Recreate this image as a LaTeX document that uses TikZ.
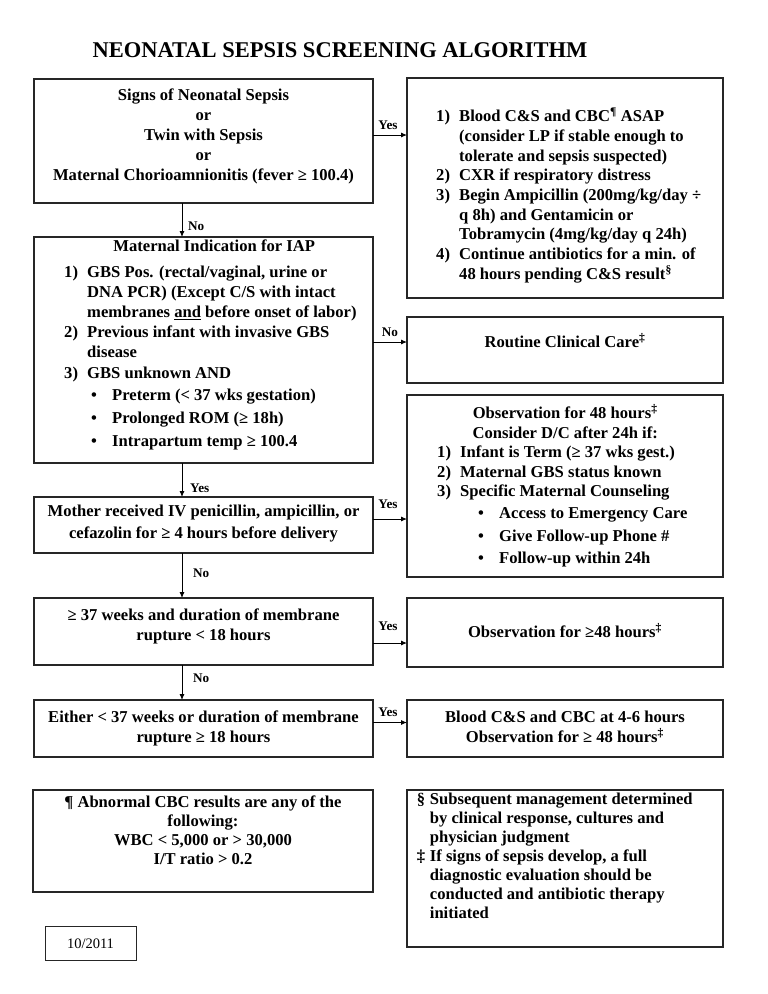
\documentclass[tikz,border=0pt]{standalone}
\usepackage{fontspec}
\setmainfont{Liberation Serif}
\usetikzlibrary{arrows.meta,calc}
\newcommand\fst{\rule{0pt}{16pt}}
\newcommand\nitem[2]{\makebox[23pt][l]{#1}#2}
\newcommand\cont[1]{\hspace*{23pt}#1}
\newcommand\bitem[2]{\hspace*{#1}\makebox[21pt][l]{•}#2}
\newcommand\hang[2]{\makebox[13pt][l]{#1}#2}
\begin{document}
\begin{tikzpicture}[x=1pt,y=-1pt,
  box/.style={draw=black!85,line width=1.1pt,inner sep=0pt,outer sep=0pt,anchor=north west},
  txt/.style={inner sep=0pt,font=\fontsize{16.6}{19.7}\selectfont\bfseries},
  arr/.style={draw=black,line width=0.9pt,-{Latex[length=6pt,width=5pt]}},
  lab/.style={inner sep=0pt,font=\fontsize{13.2}{15}\selectfont\bfseries},
]
\fill[white] (0,0) rectangle (768,994);
\useasboundingbox (0,0) rectangle (768,994);

\node[inner sep=0pt,anchor=base,font=\fontsize{22.5}{27}\selectfont\bfseries] (title) at (340,57) {NEONATAL SEPSIS SCREENING ALGORITHM};

% ---------- boxes ----------
\node[box,minimum width=339pt,minimum height=124pt] (b1) at (34,79) {};
\node[box,minimum width=316pt,minimum height=220pt] (r1) at (407,78) {};
\node[box,minimum width=339pt,minimum height=226pt] (b2) at (34,237) {};
\node[box,minimum width=316pt,minimum height=66pt] (r2) at (407,317) {};
\node[box,minimum width=316pt,minimum height=182pt] (r3) at (407,395) {};
\node[box,minimum width=339pt,minimum height=56pt] (b3) at (34,497) {};
\node[box,minimum width=339pt,minimum height=67pt] (b4) at (34,598) {};
\node[box,minimum width=316pt,minimum height=69pt] (r4) at (407,598) {};
\node[box,minimum width=339pt,minimum height=57pt] (b5) at (34,700) {};
\node[box,minimum width=316pt,minimum height=57pt] (r5) at (407,700) {};
\node[box,minimum width=340pt,minimum height=102pt] (f1) at (33,790) {};
\node[box,minimum width=316pt,minimum height=157pt] (f2) at (407,790) {};
\node[box,line width=0.8pt,minimum width=91pt,minimum height=34pt] (d1) at (45,926) {};

% ---------- texts ----------
\node[txt,font=\fontsize{16.6}{20}\selectfont\bfseries,align=center,anchor=north] (t1) at (203.5,84.5)
 {\fst Signs of Neonatal Sepsis\\ or\\ Twin with Sepsis\\ or\\ Maternal Chorioamnionitis (fever ≥ 100.4)};

\node[txt,align=left,anchor=north west] (t2) at (436,105.5)
 {\fst\nitem{1)}{Blood C\&S and CBC\textsuperscript{¶} ASAP}\\
  \cont{(consider LP if stable enough to}\\
  \cont{tolerate and sepsis suspected)}\\
  \nitem{2)}{CXR if respiratory distress}\\
  \nitem{3)}{Begin Ampicillin (200mg/kg/day ÷}\\
  \cont{q 8h) and Gentamicin or}\\
  \cont{Tobramycin (4mg/kg/day q 24h)}\\
  \nitem{4)}{Continue antibiotics for a min. of}\\
  \cont{48 hours pending C\&S result\textsuperscript{§}}};

\node[txt,font=\fontsize{16.6}{20}\selectfont\bfseries,align=left,anchor=north west] (t3) at (64,235.5)
 {\fst\makebox[300pt][c]{Maternal Indication for IAP}\\[6pt]
  \nitem{1)}{GBS Pos. (rectal/vaginal, urine or}\\
  \cont{DNA PCR) (Except C/S with intact}\\
  \cont{membranes \underline{and} before onset of labor)}\\
  \nitem{2)}{Previous infant with invasive GBS}\\
  \cont{disease}\\[1pt]
  \nitem{3)}{GBS unknown AND}\\[2pt]
  \bitem{27pt}{Preterm (< 37 wks gestation)}\\[3pt]
  \bitem{27pt}{Prolonged ROM (≥ 18h)}\\[3pt]
  \bitem{27pt}{Intrapartum temp ≥ 100.4}};

\node[txt,align=center,anchor=north] (t4) at (565,331.5) {\fst Routine Clinical Care\textsuperscript{‡}};

\node[txt,font=\fontsize{16.6}{19.5}\selectfont\bfseries,align=left,anchor=north west] (t5) at (437,402.5)
 {\fst\makebox[256pt][c]{Observation for 48 hours\textsuperscript{‡}}\\
  \makebox[256pt][c]{Consider D/C after 24h if:}\\
  \nitem{1)}{Infant is Term (≥ 37 wks gest.)}\\
  \nitem{2)}{Maternal GBS status known}\\
  \nitem{3)}{Specific Maternal Counseling}\\[2.5pt]
  \bitem{41pt}{Access to Emergency Care}\\[3pt]
  \bitem{41pt}{Give Follow-up Phone \#}\\[3pt]
  \bitem{41pt}{Follow-up within 24h}};

\node[txt,font=\fontsize{16.6}{22}\selectfont\bfseries,align=center,anchor=north] (t6) at (203.5,500)
 {\fst Mother received IV penicillin, ampicillin, or\\ cefazolin for ≥ 4 hours before delivery};

\node[txt,font=\fontsize{16.6}{20}\selectfont\bfseries,align=center,anchor=north] (t7) at (203.5,604.5)
 {\fst ≥ 37 weeks and duration of membrane\\ rupture < 18 hours};

\node[txt,align=center,anchor=north] (t8) at (565,621.5) {\fst Observation for ≥48 hours\textsuperscript{‡}};

\node[txt,font=\fontsize{16.6}{20}\selectfont\bfseries,align=center,anchor=north] (t9) at (203.5,706)
 {\fst Either < 37 weeks or duration of membrane\\ rupture ≥ 18 hours};

\node[txt,font=\fontsize{16.6}{20}\selectfont\bfseries,align=center,anchor=north] (t10) at (565,706.5)
 {\fst Blood C\&S and CBC at 4-6 hours\\ Observation for ≥ 48 hours\textsuperscript{‡}};

\node[txt,font=\fontsize{16.6}{19}\selectfont\bfseries,align=center,anchor=north] (t11) at (203,791)
 {\fst ¶ Abnormal CBC results are any of the\\ following:\\ WBC < 5,000 or > 30,000\\ I/T ratio > 0.2};

\node[txt,font=\fontsize{16.6}{19}\selectfont\bfseries,align=left,anchor=north west] (t12) at (416.7,788)
 {\fst\hang{§}{Subsequent management determined}\\
  \hang{}{by clinical response, cultures and}\\
  \hang{}{physician judgment}\\
  \hang{‡}{If signs of sepsis develop, a full}\\
  \hang{}{diagnostic evaluation should be}\\
  \hang{}{conducted and antibiotic therapy}\\
  \hang{}{initiated}};

\node[inner sep=0pt,anchor=base,font=\fontsize{14.5}{16}\selectfont] (t13) at (90.5,948) {10/2011};

% ---------- connectors ----------
\draw[arr] ($(b1.north east)+(0,56)$) coordinate (a1) -- (a1 -| r1.west);
\draw[arr] ($(b1.south west)+(148,0)$) coordinate (v1) -- (v1 |- b2.north);
\draw[arr] ($(b2.north east)+(0,105)$) coordinate (a2) -- (a2 -| r2.west);
\draw[arr] ($(b2.south west)+(148,0)$) coordinate (v2) -- (v2 |- b3.north);
\draw[arr] ($(b3.north east)+(0,22)$) coordinate (a3) -- (a3 -| r3.west);
\draw[arr] ($(b3.south west)+(148,0)$) coordinate (v3) -- (v3 |- b4.north);
\draw[arr] ($(b4.north east)+(0,45)$) coordinate (a4) -- (a4 -| r4.west);
\draw[arr] ($(b4.south west)+(148,0)$) coordinate (v4) -- (v4 |- b5.north);
\draw[arr] ($(b5.north east)+(0,22.5)$) coordinate (a5) -- (a5 -| r5.west);

% ---------- labels ----------
\node[lab,anchor=base] (l1) at (388,129.5) {Yes};
\node[lab,anchor=base west] (l2) at (188,230.5) {No};
\node[lab,anchor=base] (l3) at (390,336.5) {No};
\node[lab,anchor=base west] (l4) at (190,492.5) {Yes};
\node[lab,anchor=base] (l5) at (388,508.5) {Yes};
\node[lab,anchor=base west] (l6) at (193,577.5) {No};
\node[lab,anchor=base] (l7) at (388,630.5) {Yes};
\node[lab,anchor=base west] (l8) at (193,682.5) {No};
\node[lab,anchor=base] (l9) at (388,716) {Yes};
\end{tikzpicture}
\end{document}
